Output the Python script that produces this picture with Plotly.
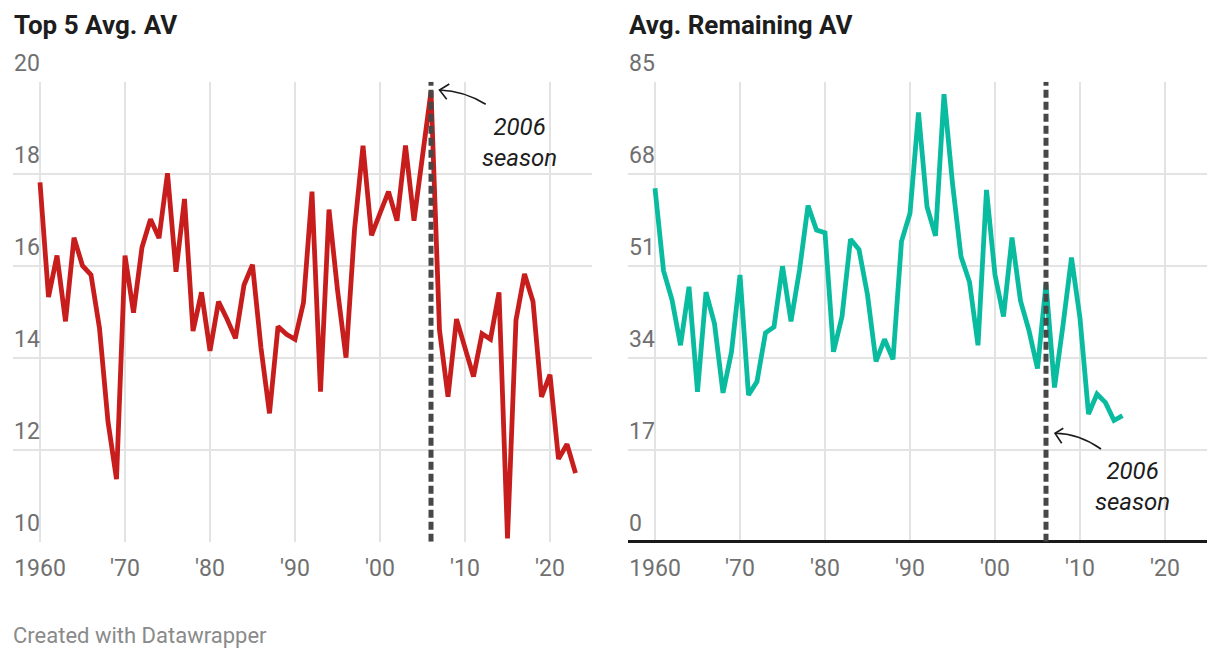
import plotly.graph_objects as go

# ---------------- data ----------------
years_top = list(range(1960, 2024))
top5_avg_av = [17.81, 15.32, 16.22, 14.79, 16.61, 16.00, 15.80, 14.64, 12.61, 11.36,
               16.22, 14.98, 16.40, 17.01, 16.60, 18.01, 15.87, 17.45, 14.58, 15.42,
               14.15, 15.22, 14.84, 14.42, 15.58, 16.02, 14.21, 12.79, 14.68, 14.51,
               14.40, 15.20, 17.61, 13.26, 17.22, 15.47, 14.00, 16.78, 18.61, 16.66,
               17.14, 17.61, 16.98, 18.61, 16.98, 18.30, 19.79, 14.60, 13.15, 14.84,
               14.24, 13.59, 14.52, 14.40, 15.42, 10.07, 14.82, 15.82, 15.22, 13.15,
               13.63, 11.80, 12.12, 11.49]

years_rem = list(range(1960, 2016))
remaining_av = [65.3, 50.1, 44.7, 36.3, 47.1, 27.7, 46.1, 40.3, 27.5, 35.1,
                49.3, 27.1, 29.6, 38.6, 39.7, 50.9, 40.7, 50.2, 62.1, 57.6,
                57.1, 35.1, 41.6, 55.9, 54.0, 45.6, 33.3, 37.4, 33.7, 55.5,
                60.7, 79.3, 61.9, 56.5, 82.7, 66.2, 52.7, 48.0, 36.3, 65.0,
                49.3, 41.6, 56.2, 44.5, 39.0, 32.0, 47.6, 28.5, 40.0, 52.5,
                41.3, 23.6, 27.3, 25.7, 22.4, 23.3]

x_tickvals = [1960, 1970, 1980, 1990, 2000, 2010, 2020]
x_ticktext = ["1960", "'70", "'80", "'90", "'00", "'10", "'20"]
left_yticks = [10, 12, 14, 16, 18, 20]
right_yticks = [0, 17, 34, 51, 68, 85]
marker_year = 2006
titles = ["Top 5 Avg. AV", "Avg. Remaining AV"]
note_text = "2006<br>season"
credit = "Created with Datawrapper"

# ---------------- style ----------------
OX, OY = 8, 8              # page body margin
FW, FH = 1204, 642         # figure size inside the page
RED = "#c71e1d"
TEAL = "#09bb9f"
DASH = "#474747"
GRID = "#e3e3e3"
TICK = "#707070"
INK = "#1d1d1d"
FONT = "Roboto"


def px(x):
    return (x - OX) / FW


def py(y):
    return 1 - (y - OY) / FH


x_range = [1956.824, 2024.941]
y_dom = [py(541.7), py(81.7)]

fig = go.Figure()

fig.add_trace(go.Scatter(x=years_top, y=top5_avg_av, mode="lines",
                         line=dict(color=RED, width=4.8), xaxis="x", yaxis="y",
                         hoverinfo="x+y"))
fig.add_trace(go.Scatter(x=[marker_year, marker_year], y=[left_yticks[0], left_yticks[-1]],
                         mode="lines", line=dict(color=DASH, width=5, dash="8px,4px"),
                         xaxis="x", yaxis="y", hoverinfo="skip"))
fig.add_trace(go.Scatter(x=years_rem, y=remaining_av, mode="lines",
                         line=dict(color=TEAL, width=4.8), xaxis="x2", yaxis="y2",
                         hoverinfo="x+y"))
fig.add_trace(go.Scatter(x=[marker_year, marker_year], y=[right_yticks[0], right_yticks[-1]],
                         mode="lines", line=dict(color=DASH, width=5, dash="8px,4px"),
                         xaxis="x2", yaxis="y2", hoverinfo="skip"))

xaxis_common = dict(range=x_range, tickvals=x_tickvals, ticktext=x_ticktext,
                    showgrid=True, gridcolor=GRID, gridwidth=2, zeroline=False,
                    showline=False, ticks="", ticklabelstandoff=10,
                    tickfont=dict(family=FONT, size=23, color=TICK), fixedrange=True)
yaxis_common = dict(showgrid=True, gridcolor=GRID, gridwidth=2, showline=False,
                    ticks="", showticklabels=False, fixedrange=True, domain=y_dom)

fig.update_layout(
    width=FW, height=FH, autosize=False,
    margin=dict(l=0, r=0, t=0, b=0),
    paper_bgcolor="white", plot_bgcolor="white",
    showlegend=False,
    xaxis=dict(domain=[px(13), px(592)], anchor="y", **xaxis_common),
    yaxis=dict(range=[10, 20], tickvals=left_yticks, anchor="x", zeroline=False,
               **yaxis_common),
    xaxis2=dict(domain=[px(628), px(1207)], anchor="y2", **xaxis_common),
    yaxis2=dict(range=[0, 85], tickvals=right_yticks, anchor="x2", zeroline=True,
                zerolinecolor="#1a1a1a", zerolinewidth=3, **yaxis_common),
)

annotations = [
    dict(text=titles[0], x=px(12), y=py(25), xref="paper", yref="paper",
         xanchor="left", yanchor="middle", showarrow=False,
         font=dict(family=FONT, size=26, color=INK, weight="bold")),
    dict(text=titles[1], x=px(627), y=py(25), xref="paper", yref="paper",
         xanchor="left", yanchor="middle", showarrow=False,
         font=dict(family=FONT, size=26, color=INK, weight="bold")),
    dict(text=note_text, x=px(519), y=py(142), xref="paper", yref="paper",
         xanchor="center", yanchor="middle", showarrow=False,
         font=dict(family=FONT, size=24, color=INK, style="italic")),
    dict(text=note_text, x=px(1132), y=py(486), xref="paper", yref="paper",
         xanchor="center", yanchor="middle", showarrow=False,
         font=dict(family=FONT, size=24, color=INK, style="italic")),
    dict(text=credit, x=px(11), y=py(635), xref="paper", yref="paper",
         xanchor="left", yanchor="middle", showarrow=False,
         font=dict(family=FONT, size=22, color="#8a8a8a")),
]

# y tick labels sit just above their gridlines at the left edge of each panel
for yref, xpos, vals in [("y", 12, left_yticks), ("y2", 627, right_yticks)]:
    for v in vals:
        annotations.append(dict(text=str(v), x=px(xpos), y=v, xref="paper", yref=yref,
                                xanchor="left", yanchor="bottom", yshift=3,
                                showarrow=False,
                                font=dict(family=FONT, size=23, color=TICK)))
fig.update_layout(annotations=annotations)


def curve(p0, c, p1):
    return "M {} {} Q {} {} {} {}".format(px(p0[0]), py(p0[1]), px(c[0]), py(c[1]),
                                            px(p1[0]), py(p1[1]))


def chevron(a, tip, b):
    return "M {} {} L {} {} L {} {}".format(px(a[0]), py(a[1]), px(tip[0]), py(tip[1]),
                                            px(b[0]), py(b[1]))


shapes = []
for tail, ctrl, tip, arm1, arm2 in [
    ((485.7, 104.3), (464.3, 90.9), (439.5, 90.0), (449.3, 84.0), (446.7, 99.3)),
    ((1101.0, 449.0), (1078.6, 433.5), (1055.0, 433.3), (1063.3, 428.3), (1061.7, 443.3)),
]:
    shapes.append(dict(type="path", path=curve(tail, ctrl, tip), xref="paper", yref="paper",
                       line=dict(color="#1a1a1a", width=1.6), layer="above"))
    shapes.append(dict(type="path", path=chevron(arm1, tip, arm2), xref="paper", yref="paper",
                       line=dict(color="#1a1a1a", width=1.6), layer="above"))
fig.update_layout(shapes=shapes)

fig.write_html("out.html", config={"displayModeBar": False})
